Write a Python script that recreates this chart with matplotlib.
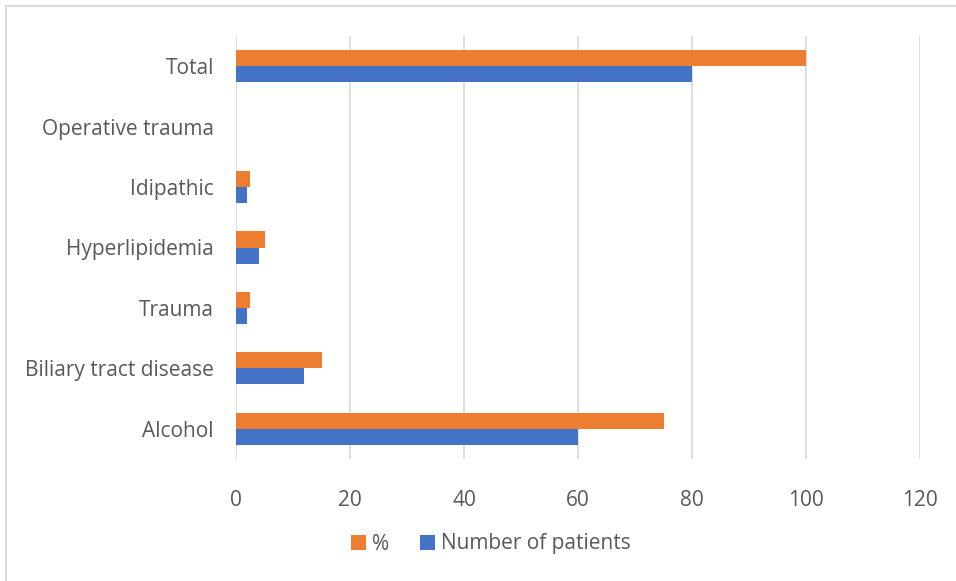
import matplotlib
matplotlib.use("Agg")
import matplotlib.pyplot as plt
import numpy as np
from matplotlib.lines import Line2D

categories = ["Alcohol", "Biliary tract disease", "Trauma", "Hyperlipidemia",
              "Idipathic", "Operative trauma", "Total"]
patients = [60, 12, 2, 4, 2, 0, 80]
percent = [75, 15, 2.5, 5, 2.5, 0, 100]
x_ticks = [0, 20, 40, 60, 80, 100, 120]

blue = "#4472C4"
orange = "#ED7D31"
text_col = "#595959"
grid_col = "#D9D9D9"

plt.rcParams["font.family"] = ["Open Sans", "DejaVu Sans"]

fig = plt.figure(figsize=(9.56, 5.81), dpi=100)
# chart-area frame: only the left and top edges fall inside the canvas
x0, y0 = 5.5 / 956, 1 - 6 / 581
fig.lines.append(Line2D([x0, x0], [0, y0], transform=fig.transFigure,
                        color=grid_col, linewidth=1.3))
fig.lines.append(Line2D([x0, 1], [y0, y0], transform=fig.transFigure,
                        color=grid_col, linewidth=1.3))

ax = fig.add_axes([236 / 956, 1 - 459 / 581, (920 - 236) / 956, (459 - 36) / 581])
y = np.arange(len(categories))
h = 0.265
ax.barh(y - h / 2, patients, height=h, color=blue, label="Number of patients", zorder=3)
ax.barh(y + h / 2, percent, height=h, color=orange, label="%", zorder=3)

ax.set_xlim(0, 120)
ax.set_ylim(-0.5, len(categories) - 0.5)
ax.set_xticks(x_ticks)
ax.set_xticklabels([str(t) for t in x_ticks])
ax.set_yticks(y)
ax.set_yticklabels(categories)
ax.tick_params(axis="both", length=0, labelsize=15, colors=text_col)
ax.tick_params(axis="x", pad=22)
ax.tick_params(axis="y", pad=16)
ax.xaxis.grid(True, color=grid_col, linewidth=1.2, zorder=0)
for s in ax.spines.values():
    s.set_visible(False)

handles, labels = ax.get_legend_handles_labels()
fig.legend(handles[::-1], labels[::-1], loc="center", bbox_to_anchor=(491 / 956, 1 - 544 / 581),
           ncol=2, frameon=False, fontsize=15, labelcolor=text_col,
           handlelength=0.7, handleheight=0.7, handletextpad=0.3, columnspacing=1.5)

fig.savefig("out.png", dpi=100)
